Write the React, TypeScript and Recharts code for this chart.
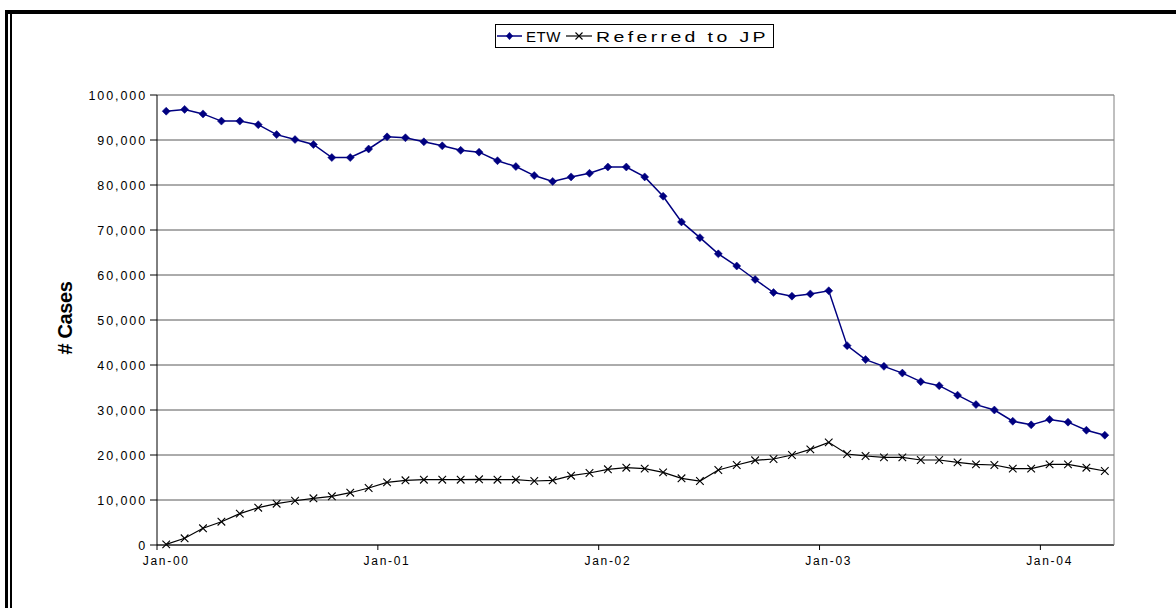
import { LineChart, Line, XAxis, YAxis, CartesianGrid } from "recharts";

const MONTH_NAMES = ["Jan", "Feb", "Mar", "Apr", "May", "Jun", "Jul", "Aug", "Sep", "Oct", "Nov", "Dec"];
const YEARS = ["00", "01", "02", "03", "04"];
const MONTHS = YEARS.flatMap((yy) => MONTH_NAMES.map((m) => `${m}-${yy}`)).slice(0, 52);

const ETW = [
  96400, 96800, 95800, 94200, 94200, 93400, 91200, 90100, 89000, 86100, 86100, 88000,
  90700, 90500, 89600, 88700, 87700, 87300, 85400, 84100, 82100, 80800, 81800, 82600,
  84000, 84000, 81800, 77500, 71800, 68300, 64700, 62000, 59000, 56100, 55300, 55800,
  56500, 44300, 41200, 39700, 38200, 36300, 35400, 33300, 31200, 30000, 27500, 26700,
  27900, 27300, 25500, 24400,
];

const REFERRED_JP = [
  150, 1490, 3710, 5180, 6960, 8290, 9180, 9840, 10380, 10820, 11620, 12670,
  13930, 14380, 14510, 14510, 14510, 14600, 14510, 14510, 14220, 14380, 15400, 16000,
  16820, 17180, 16960, 16150, 14820, 14220, 16670, 17780, 18820, 19110, 20000, 21260,
  22810, 20220, 19780, 19480, 19480, 18890, 18890, 18370, 17930, 17780, 16960, 16960,
  17930, 17930, 17180, 16440,
];

const Y_TICKS = [0, 10000, 20000, 30000, 40000, 50000, 60000, 70000, 80000, 90000, 100000];

const WIDTH = 1176;
const HEIGHT = 608;
const PLOT_LEFT = 157;
const PLOT_RIGHT = 1114;
const PLOT_TOP = 95;
const HALF_SLOT = (PLOT_RIGHT - PLOT_LEFT) / MONTHS.length / 2;

const FONT = '"Liberation Sans", Arial, sans-serif';
const NAVY = "#000080";
const GRID = "#595959";

const data = MONTHS.map((month, i) => ({ month, etw: ETW[i], jp: REFERRED_JP[i] }));

function Diamond(props: any) {
  const { cx, cy, index } = props;
  if (cx == null || cy == null) return <g key={`etw-${index}`} />;
  const r = 4;
  return (
    <path
      key={`etw-${index}`}
      d={`M${cx},${cy - r}L${cx + r},${cy}L${cx},${cy + r}L${cx - r},${cy}Z`}
      fill={NAVY}
      stroke={NAVY}
      strokeWidth={0.5}
    />
  );
}

function Cross(props: any) {
  const { cx, cy, index } = props;
  if (cx == null || cy == null) return <g key={`jp-${index}`} />;
  const r = 3.8;
  return (
    <path
      key={`jp-${index}`}
      d={`M${cx - r},${cy - r}L${cx + r},${cy + r}M${cx - r},${cy + r}L${cx + r},${cy - r}`}
      stroke="#000"
      strokeWidth={1.1}
      fill="none"
    />
  );
}

// month labels sit under the points, tick marks on the month boundary
function XTick(props: any) {
  const { x, y, payload } = props;
  return (
    <g>
      <line x1={x - HALF_SLOT} x2={x - HALF_SLOT} y1={y} y2={y + 5} stroke="#000" />
      <text
        x={x}
        y={y + 20}
        textAnchor="middle"
        fontFamily={FONT}
        fontSize={12}
        letterSpacing={1.7}
        fill="#000"
      >
        {payload.value}
      </text>
    </g>
  );
}

function YTick(props: any) {
  const { x, y, payload } = props;
  return (
    <text
      x={x}
      y={y + 4.5}
      textAnchor="end"
      fontFamily={FONT}
      fontSize={12.5}
      letterSpacing={1.9}
      fill="#000"
    >
      {Number(payload.value).toLocaleString("en-US")}
    </text>
  );
}

export default function App() {
  return (
    <div
      style={{
        position: "absolute",
        left: 0,
        top: 0,
        width: WIDTH,
        height: HEIGHT,
        background: "#fff",
        overflow: "hidden",
      }}
    >
      {/* double frame around the chart */}
      <div style={{ position: "absolute", left: 5, top: 10, width: WIDTH - 5, height: 4, background: "#000" }} />
      <div style={{ position: "absolute", left: 5, top: 10, width: 3, height: HEIGHT - 10, background: "#000" }} />
      <div style={{ position: "absolute", left: 10, top: 14, width: 1.5, height: HEIGHT - 14, background: "#000" }} />

      <div style={{ position: "absolute", left: 0, top: 0 }}>
        <LineChart
          width={WIDTH}
          height={HEIGHT}
          data={data}
          margin={{ top: PLOT_TOP, right: WIDTH - PLOT_RIGHT - 1, bottom: 33, left: 0 }}
        >
          <CartesianGrid vertical={false} stroke={GRID} />
          <XAxis
            dataKey="month"
            interval={11}
            padding={{ left: HALF_SLOT, right: HALF_SLOT }}
            height={30}
            tickLine={false}
            tickSize={0}
            tickMargin={0}
            axisLine={{ stroke: "#000" }}
            tick={<XTick />}
          />
          <YAxis
            width={PLOT_LEFT}
            domain={[0, 100000]}
            ticks={Y_TICKS}
            interval={0}
            tickSize={7}
            tickMargin={3}
            tickLine={{ stroke: "#000" }}
            axisLine={{ stroke: "#000" }}
            tick={<YTick />}
          />
          <YAxis
            yAxisId="frame"
            orientation="right"
            width={1}
            domain={[0, 100000]}
            tick={false}
            tickLine={false}
            axisLine={{ stroke: "#808080" }}
          />
          <Line
            dataKey="etw"
            name="ETW"
            type="linear"
            stroke={NAVY}
            strokeWidth={1.5}
            dot={Diamond}
            activeDot={false}
            isAnimationActive={false}
          />
          <Line
            dataKey="jp"
            name="Referred to JP"
            type="linear"
            stroke="#000"
            strokeWidth={1.2}
            dot={Cross}
            activeDot={false}
            isAnimationActive={false}
          />

          {/* axis title */}
          <text
            x={72}
            y={318}
            transform="rotate(-90 72 318)"
            textAnchor="middle"
            fontFamily={FONT}
            fontSize={20}
            fontWeight="bold"
            letterSpacing={-0.4}
            fill="#000"
          >
            # Cases
          </text>

          {/* legend box */}
          <g>
            <rect x={495.5} y={24.5} width={278} height={23} fill="#fff" stroke="#000" />
            <line x1={497} x2={522} y1={36} y2={36} stroke={NAVY} strokeWidth={1.5} />
            <path d="M509.5,32L513,36L509.5,40L506,36Z" fill={NAVY} />
            <text x={526} y={41.5} fontFamily={FONT} fontSize={15} letterSpacing={0.5} fill="#000">
              ETW
            </text>
            <line x1={566} x2={592} y1={36} y2={36} stroke="#000" strokeWidth={1.2} />
            <path d="M575.5,32.5L582.5,39.5M575.5,39.5L582.5,32.5" stroke="#000" strokeWidth={1.1} />
            <text
              transform="translate(596 41.5) scale(1.3 1)"
              fontFamily={FONT}
              fontSize={15}
              letterSpacing={2.6}
              fill="#000"
            >
              Referred to JP
            </text>
          </g>
        </LineChart>
      </div>
    </div>
  );
}
